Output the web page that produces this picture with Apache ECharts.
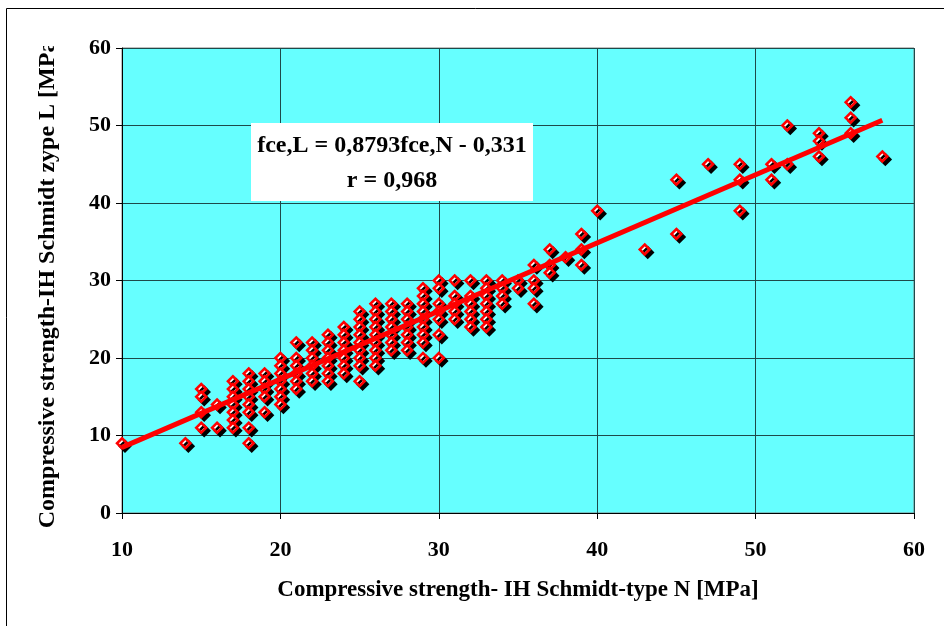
<!DOCTYPE html>
<html>
<head>
<meta charset="utf-8">
<script src="https://cdn.jsdelivr.net/npm/echarts@6/dist/echarts.min.js"></script>
<style>
html,body{margin:0;padding:0;background:#fff;}
#chart{width:944px;height:626px;}
</style>
</head>
<body>
<div id="chart"></div>
<script>
// Compressive strength, Schmidt hammer type N (x) — one entry per column of points
const nColumns = [10, 14, 15, 16, 17, 18, 19, 20, 21, 22, 23, 24, 25, 26, 27, 28, 29, 30, 31, 32, 33, 34, 35, 36, 37, 38, 39, 40, 43, 45, 47, 49, 51, 52, 54, 56, 58];
// Compressive strength, Schmidt hammer type L (y) — values for each column above
const lByColumn = [
  [9], [9], [16, 15, 13, 11], [14, 11],
  [17, 16, 15, 14, 13, 12, 11],
  [18, 17, 16, 15, 14, 13, 11, 9],
  [18, 17, 16, 15, 13],
  [20, 19, 18, 17, 16, 15, 14],
  [22, 20, 19, 18, 17, 16],
  [22, 21, 20, 19, 18, 17],
  [23, 22, 21, 20, 19, 18, 17],
  [24, 23, 22, 21, 20, 19, 18],
  [26, 25, 24, 23, 22, 21, 20, 19, 17],
  [27, 26, 25, 24, 23, 22, 21, 20, 19],
  [27, 26, 25, 24, 23, 22, 21],
  [27, 26, 25, 24, 23, 22, 21],
  [29, 28, 27, 26, 25, 24, 23, 22, 20],
  [30, 29, 27, 26, 25, 23, 20],
  [30, 28, 27, 26, 25],
  [30, 28, 27, 26, 25, 24],
  [30, 29, 28, 27, 26, 25, 24],
  [30, 29, 28, 27],
  [30, 29],
  [32, 30, 29, 27],
  [34, 32, 31],
  [33],
  [36, 34, 32],
  [39],
  [34],
  [43, 36],
  [45],
  [45, 43, 39],
  [45, 43],
  [50, 45],
  [49, 48, 46],
  [53, 51, 49],
  [46]
];
// Regression line fce,L = 0,8793 fce,N - 0,331, drawn over the data range
const slope = 0.8793;
const intercept = -0.331;
const lineRange = [10, 58];
const xTicks = [10, 20, 30, 40, 50, 60];
const yTicks = [0, 10, 20, 30, 40, 50, 60];
const equationLines = ['fce,L = 0,8793fce,N - 0,331', 'r = 0,968'];

const points = [];
nColumns.forEach((n, i) => lByColumn[i].forEach(l => points.push([n, l])));
const regLine = lineRange.map(x => [x, slope * x + intercept]);

const font = '"Liberation Serif", "Times New Roman", serif';
const chart = echarts.init(document.getElementById('chart'), null, {renderer: 'canvas'});
chart.setOption({
  animation: false,
  backgroundColor: '#ffffff',
  grid: {left: 122, right: 30, top: 48, bottom: 113, show: true, backgroundColor: '#66ffff', borderColor: '#808080', borderWidth: 1},
  xAxis: {
    type: 'value', min: xTicks[0], max: xTicks[xTicks.length - 1], interval: 10,
    name: 'Compressive strength- IH Schmidt-type N [MPa]',
    nameLocation: 'middle', nameGap: 66,
    nameTextStyle: {fontFamily: font, fontWeight: 'bold', fontSize: 23, color: '#000'},
    axisLine: {show: true, lineStyle: {color: '#000', width: 1}},
    axisTick: {show: true, length: 6, lineStyle: {color: '#000'}},
    axisLabel: {fontFamily: font, fontWeight: 'bold', fontSize: 22, color: '#000', margin: 26},
    splitLine: {show: true, lineStyle: {color: '#1e4a4a', width: 1}}
  },
  yAxis: {
    type: 'value', min: yTicks[0], max: yTicks[yTicks.length - 1], interval: 10,
    name: 'Compressive strength-IH Schmidt zype L [MPa]',
    nameLocation: 'middle', nameGap: 62, nameRotate: 90,
    nameTextStyle: {fontFamily: font, fontWeight: 'bold', fontSize: 24, color: '#000'},
    axisLine: {show: true, lineStyle: {color: '#000', width: 1}},
    axisTick: {show: true, length: 6, lineStyle: {color: '#000'}},
    axisLabel: {fontFamily: font, fontWeight: 'bold', fontSize: 22, color: '#000', margin: 11},
    splitLine: {show: true, lineStyle: {color: '#1e4a4a', width: 1}}
  },
  series: [
    {
      type: 'scatter', data: points, symbol: 'diamond', symbolSize: 10, z: 3,
      itemStyle: {color: '#ffffff', borderColor: '#ff0000', borderWidth: 2.5, shadowColor: '#000', shadowBlur: 0, shadowOffsetX: 3, shadowOffsetY: 3, opacity: 1}
    },
    {
      type: 'line', data: regLine, showSymbol: false, symbol: 'none', z: 4,
      lineStyle: {color: '#ff0000', width: 5}
    }
  ],
  graphic: [
    {type: 'rect', z: 100, shape: {x: 25, y: 9, width: 45, height: 37}, style: {fill: '#fff'}},
    {type: 'rect', z: 101, shape: {x: 6.5, y: 8.5, width: 1000, height: 1000}, style: {fill: 'none', stroke: '#000', lineWidth: 1}},
    {type: 'rect', z: 50, shape: {x: 251, y: 123, width: 282, height: 78}, style: {fill: '#fff'}},
    {type: 'text', z: 51, x: 392, y: 146, style: {text: equationLines[0], font: 'bold 24px ' + font, fill: '#000', align: 'center', verticalAlign: 'middle'}},
    {type: 'text', z: 51, x: 392, y: 181, style: {text: equationLines[1], font: 'bold 24px ' + font, fill: '#000', align: 'center', verticalAlign: 'middle'}}
  ]
});
</script>
</body>
</html>
